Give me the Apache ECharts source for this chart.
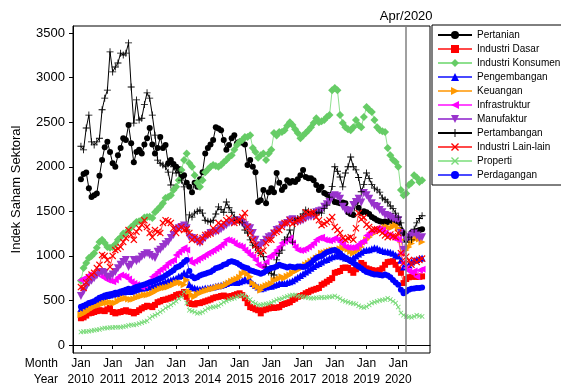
<!DOCTYPE html>
<html>
<head>
<meta charset="utf-8">
<script src="https://cdn.jsdelivr.net/npm/echarts@6/dist/echarts.min.js"></script>
<style>
  html, body { margin: 0; padding: 0; background: #fff; }
  #chart { width: 561px; height: 385px; }
</style>
</head>
<body>
<div id="chart"></div>
<script>
const FONT = 'Liberation Sans'

// axis: months counted from Jan 2010, a little padding on both ends
const monthNames = ['Jan', 'Feb', 'Mar', 'Apr', 'May', 'Jun', 'Jul', 'Aug', 'Sep', 'Oct', 'Nov', 'Dec']
const firstMonth = -3
const lastMonth = 132
const yearLabels = ['2010', '2011', '2012', '2013', '2014', '2015', '2016', '2017', '2018', '2019', '2020']
const yTicks = [0, 500, 1000, 1500, 2000, 2500, 3000, 3500]
const markMonth = 'Apr 2020'

// monthly values, Jan 2010 .. Oct 2020
const pertanian = [
  1860, 1920, 1935, 1760, 1660, 1680, 1700, 1900, 2075, 2220, 2280, 2165,
  2040, 2000, 2130, 2210, 2320, 2300, 2470, 2265, 2050, 2165, 2190, 2150,
  2250, 2320, 2435, 2250, 2150, 2210, 2335, 2210, 2245, 2040, 2075, 2030,
  2000, 1975, 1885, 1905, 1820, 1775, 1715, 1820, 1775, 1860, 1940, 2150,
  2210, 2250, 2300, 2445, 2430, 2410, 2300, 2190, 2245, 2320, 2355, 2265,
  2280, 2270, 2250, 2020, 2075, 2000, 1940, 1605, 1625, 1740, 1590, 1715,
  1760, 1715, 1930, 1820, 1740, 1775, 1850, 1820, 1840, 1830, 1860, 1905,
  1965, 1885, 1870, 1870, 1850, 1795, 1740, 1775, 1705, 1690, 1680, 1660,
  1605, 1600, 1590, 1600, 1590, 1490, 1470, 1460, 1605, 1540, 1480, 1500,
  1490, 1470, 1435, 1420, 1400, 1390, 1380, 1385, 1380, 1400, 1390, 1380,
  1370, 1290, 1257, 1180, 1220, 1260, 1250, 1280, 1290, 1300]
const industriDasar = [
  300, 310, 330, 355, 360, 370, 380, 390, 385, 380, 400, 415,
  370, 355, 365, 370, 380, 390, 375, 370, 355, 370, 390, 410,
  425, 440, 435, 425, 450, 480, 490, 505, 510, 520, 530, 540,
  560, 570, 575, 595, 540, 470, 460, 455, 470, 470, 480, 490,
  500, 510, 525, 535, 540, 550, 555, 545, 540, 550, 560, 570,
  580, 560, 525, 470, 425, 415, 400, 390, 355, 390, 400, 410,
  425, 415, 420, 425, 450, 460, 470, 480, 505, 520, 540, 550,
  560, 580, 595, 610, 620, 630, 640, 675, 690, 710, 730, 750,
  810, 820, 830, 865, 870, 865, 840, 810, 850, 875, 920, 900,
  860, 850, 840, 835, 830, 840, 860, 900, 930, 935, 940, 900,
  850, 810, 695, 740, 760, 765, 770, 765, 765, 770]
const industriKonsumen = [
  720, 865, 920, 975, 1000, 1030, 1090, 1155, 1180, 1145, 1100, 1090,
  1100, 1130, 1180, 1210, 1250, 1257, 1290, 1325, 1350, 1380, 1390, 1400,
  1430, 1435, 1440, 1425, 1490, 1520, 1550, 1590, 1650, 1660, 1680, 1740,
  1775, 1850, 1965, 2075, 2150, 2040, 2000, 1905, 1820, 1775, 1850, 1940,
  1970, 2000, 2020, 2010, 2000, 2020, 2050, 2075, 2110, 2130, 2190, 2245,
  2280, 2300, 2335, 2335, 2355, 2210, 2165, 2100, 2130, 2150, 2075, 2150,
  2190, 2380, 2350, 2390, 2390, 2410, 2460, 2500, 2470, 2420, 2380, 2320,
  2350, 2380, 2410, 2445, 2490, 2545, 2500, 2510, 2525, 2560, 2580, 2860,
  2885, 2860, 2580, 2490, 2445, 2420, 2410, 2445, 2525, 2470, 2445, 2560,
  2670, 2640, 2615, 2525, 2445, 2410, 2400, 2390, 2210, 2130, 2080, 2055,
  2000, 1740, 1680, 1700, 1795, 1820, 1905, 1880, 1830, 1850]
const pengembangan = [
  410, 420, 440, 460, 470, 480, 500, 520, 530, 545, 555, 560,
  570, 580, 575, 590, 595, 600, 615, 600, 610, 620, 630, 640,
  640, 645, 650, 660, 670, 680, 690, 700, 710, 720, 730, 740,
  750, 770, 780, 810, 790, 680, 650, 640, 630, 625, 630, 640,
  640, 645, 650, 660, 665, 670, 680, 690, 700, 705, 710, 700,
  710, 720, 740, 730, 720, 690, 670, 650, 630, 640, 650, 660,
  660, 670, 680, 690, 700, 690, 700, 710, 720, 740, 760, 780,
  800, 820, 840, 860, 880, 900, 915, 930, 950, 960, 975, 990,
  1000, 1010, 1000, 990, 975, 970, 960, 980, 1000, 1020, 1040, 1060,
  1065, 1070, 1080, 1090, 1085, 1070, 1060, 1050, 1045, 1040, 1030, 1010,
  1000, 950, 875, 880, 900, 930, 950, 960, 970, 975]
const keuangan = [
  340, 350, 370, 390, 410, 425, 440, 450, 460, 470, 475, 480,
  475, 470, 495, 505, 520, 525, 515, 510, 515, 530, 540, 550,
  560, 560, 570, 580, 600, 615, 630, 640, 645, 650, 665, 675,
  695, 700, 695, 675, 730, 600, 560, 540, 570, 580, 595, 605,
  615, 625, 630, 640, 650, 655, 660, 680, 695, 715, 730, 740,
  760, 800, 840, 800, 765, 695, 670, 650, 615, 650, 665, 675,
  690, 730, 735, 745, 765, 750, 770, 785, 810, 825, 840, 860,
  875, 900, 920, 940, 955, 975, 990, 1030, 1035, 1045, 1055, 1065,
  1065, 1065, 1080, 1090, 1085, 1075, 1050, 1030, 1050, 1065, 1100, 1145,
  1180, 1210, 1240, 1257, 1270, 1290, 1310, 1320, 1325, 1310, 1330, 1345,
  1310, 1180, 1030, 1065, 1100, 1140, 1180, 1210, 1190, 1155]
const infrastruktur = [
  730, 745, 760, 785, 780, 785, 800, 810, 765, 750, 730, 720,
  710, 730, 760, 785, 775, 765, 740, 710, 690, 675, 660, 650,
  670, 695, 720, 765, 790, 820, 845, 865, 890, 920, 940, 955,
  1010, 1040, 1065, 1090, 1065, 955, 920, 940, 955, 975, 990, 1010,
  1030, 1045, 1060, 1080, 1100, 1120, 1145, 1180, 1175, 1165, 1145, 1120,
  1110, 1100, 1065, 1040, 1010, 990, 955, 900, 880, 875, 930, 990,
  1000, 1030, 1065, 1100, 1145, 1160, 1180, 1200, 1145, 1100, 1065, 1060,
  1065, 1080, 1100, 1120, 1145, 1180, 1200, 1210, 1180, 1175, 1170, 1180,
  1200, 1180, 1155, 1130, 1100, 1095, 1090, 1095, 1100, 1130, 1155, 1170,
  1230, 1257, 1280, 1290, 1310, 1300, 1290, 1260, 1235, 1220, 1200, 1190,
  1180, 1030, 920, 865, 830, 810, 830, 765, 840, 850]
const manufaktur = [
  550, 600, 650, 695, 720, 750, 780, 810, 820, 810, 765, 765,
  790, 820, 860, 900, 930, 955, 875, 900, 955, 940, 960, 990,
  1010, 1030, 1010, 990, 975, 1045, 1070, 1100, 1130, 1155, 1200, 1235,
  1290, 1310, 1325, 1340, 1310, 1210, 1200, 1180, 1160, 1145, 1170, 1200,
  1230, 1257, 1260, 1270, 1280, 1300, 1320, 1345, 1370, 1375, 1380, 1400,
  1390, 1370, 1345, 1320, 1310, 1257, 1180, 1100, 1120, 1145, 1180, 1210,
  1220, 1250, 1290, 1300, 1345, 1350, 1370, 1400, 1410, 1395, 1380, 1390,
  1400, 1420, 1435, 1440, 1450, 1490, 1500, 1510, 1550, 1580, 1605, 1660,
  1680, 1670, 1640, 1550, 1515, 1510, 1500, 1570, 1605, 1640, 1600, 1705,
  1680, 1640, 1590, 1560, 1550, 1515, 1490, 1460, 1450, 1435, 1420, 1410,
  1400, 1257, 1065, 1180, 1210, 1230, 1257, 1230, 1200, 1210]
const pertambangan = [
  2230, 2190, 2435, 2580, 2280, 2245, 2280, 2320, 2640, 2770, 2860, 3290,
  3065, 3120, 3165, 3275, 3255, 3275, 3390, 2895, 2490, 2750, 2525, 2545,
  2700, 2830, 2770, 2580, 2355, 2075, 2040, 2020, 2000, 1940, 1795, 2000,
  1930, 1940, 1850, 1775, 1290, 1460, 1435, 1480, 1500, 1515, 1480, 1400,
  1390, 1380, 1400, 1470, 1550, 1520, 1490, 1605, 1540, 1490, 1435, 1400,
  1380, 1370, 1290, 1257, 1180, 1120, 1100, 1065, 1030, 990, 875, 820,
  800, 785, 955, 1030, 1065, 1180, 1210, 1290, 1155, 1400, 1420, 1435,
  1470, 1515, 1500, 1490, 1480, 1470, 1490, 1480, 1530, 1570, 1660, 1780,
  2000, 1950, 1885, 1775, 1930, 2000, 2110, 2000, 1965, 1880, 1720, 1800,
  1930, 1870, 1800, 1760, 1740, 1715, 1650, 1630, 1605, 1560, 1530, 1480,
  1435, 1370, 1257, 1155, 1210, 1180, 1300, 1370, 1420, 1450]
const industriLain = [
  650, 640, 700, 760, 790, 810, 865, 900, 1010, 1000, 955, 875,
  1000, 1065, 1080, 1100, 1155, 1200, 1290, 1235, 1180, 1270, 1310, 1350,
  1400, 1325, 1257, 1210, 1290, 1270, 1257, 1370, 1400, 1390, 1370, 1310,
  1257, 1300, 1325, 1290, 1300, 1257, 1180, 1210, 1180, 1155, 1200, 1235,
  1240, 1250, 1310, 1280, 1370, 1340, 1370, 1400, 1425, 1400, 1370, 1390,
  1400, 1435, 1480, 1325, 1257, 1180, 1120, 1065, 1030, 1060, 1145, 1180,
  1180, 1257, 1270, 1290, 1325, 1370, 1370, 1400, 1360, 1380, 1400, 1410,
  1425, 1490, 1470, 1480, 1490, 1435, 1400, 1345, 1360, 1380, 1400, 1435,
  1325, 1290, 1257, 1200, 1180, 1200, 1210, 1180, 1310, 1480, 1410, 1430,
  1350, 1325, 1290, 1300, 1300, 1280, 1257, 1230, 1210, 1240, 1220, 1210,
  1257, 1030, 920, 990, 950, 900, 955, 930, 955, 970]
const properti = [
  145, 150, 150, 155, 160, 165, 170, 175, 185, 190, 190, 195,
  195, 200, 200, 200, 205, 210, 220, 225, 225, 230, 240, 250,
  260, 270, 300, 320, 335, 350, 370, 390, 415, 430, 450, 470,
  490, 520, 540, 595, 470, 390, 380, 370, 355, 360, 370, 390,
  410, 420, 425, 430, 440, 460, 480, 495, 510, 520, 525, 540,
  550, 560, 550, 530, 510, 480, 465, 450, 450, 455, 460, 465,
  475, 490, 505, 515, 520, 535, 545, 555, 560, 560, 550, 545,
  540, 535, 530, 525, 525, 530, 530, 535, 530, 535, 540, 540,
  550, 535, 520, 500, 490, 480, 470, 465, 460, 440, 425, 420,
  430, 450, 470, 480, 490, 500, 505, 510, 525, 510, 490, 470,
  425, 360, 335, 320, 315, 310, 320, 335, 325, 320]
const perdagangan = [
  430, 440, 455, 470, 480, 490, 510, 530, 540, 555, 565, 570,
  575, 585, 590, 600, 610, 620, 630, 625, 640, 650, 660, 670,
  680, 690, 700, 710, 720, 735, 750, 760, 780, 800, 820, 840,
  870, 880, 900, 930, 955, 830, 770, 750, 760, 780, 790, 800,
  810, 820, 840, 860, 870, 880, 900, 910, 930, 940, 930, 920,
  900, 880, 870, 860, 840, 830, 820, 810, 800, 810, 830, 850,
  865, 870, 880, 900, 890, 880, 870, 880, 875, 870, 880, 880,
  875, 880, 900, 920, 950, 975, 990, 1000, 1020, 1040, 1050, 1060,
  1065, 1050, 1030, 1000, 980, 960, 940, 920, 900, 880, 860, 840,
  820, 810, 800, 790, 790, 785, 780, 790, 780, 760, 730, 700,
  675, 620, 580, 600, 620, 630, 635, 640, 640, 645]

const categories = []
for (let i = firstMonth; i <= lastMonth; i++) {
  const year = 2010 + Math.floor(i / 12)
  categories.push(monthNames[((i % 12) + 12) % 12] + ' ' + year)
}
const pad = arr => categories.map((c, i) => {
  const k = i + firstMonth
  return k >= 0 && k < arr.length ? arr[k] : null
})
const isYearStart = (idx, value) => {
  const parts = value.split(' ')
  return parts[0] === 'Jan' && yearLabels.indexOf(parts[1]) >= 0
}

const TRI_RIGHT = 'path://M0,0L10,5L0,10Z'
const TRI_LEFT = 'path://M10,0L0,5L10,10Z'
const TRI_DOWN = 'path://M0,0L10,0L5,10Z'
const PLUS = 'path://M4.4,0H5.6V4.4H10V5.6H5.6V10H4.4V5.6H0V4.4H4.4Z'
const CROSS = 'path://M0,1.2L1.2,0L5,3.8L8.8,0L10,1.2L6.2,5L10,8.8L8.8,10L5,6.2L1.2,10L0,8.8L3.8,5Z'

const seriesDefs = [
  { name: 'Pertanian', data: pertanian, symbol: 'circle', size: 6, color: '#000000', line: '#000000' },
  { name: 'Industri Dasar', data: industriDasar, symbol: 'rect', size: 6, color: '#ff0000', line: '#ff4a4a' },
  { name: 'Industri Konsumen', data: industriKonsumen, symbol: 'diamond', size: 8, color: '#66cc66', line: '#8ee08e' },
  { name: 'Pengembangan', data: pengembangan, symbol: 'triangle', size: 7, color: '#0000ff', line: '#4a4aff' },
  { name: 'Keuangan', data: keuangan, symbol: TRI_RIGHT, size: 7, color: '#ff9900', line: '#ffb040' },
  { name: 'Infrastruktur', data: infrastruktur, symbol: TRI_LEFT, size: 7, color: '#ff00ff', line: '#ff4aff' },
  { name: 'Manufaktur', data: manufaktur, symbol: TRI_DOWN, size: 8, color: '#9933cc', line: '#a855d8' },
  { name: 'Pertambangan', data: pertambangan, symbol: PLUS, size: 7, color: '#000000', line: '#000000' },
  { name: 'Industri Lain-lain', data: industriLain, symbol: CROSS, size: 7, color: '#ff0000', line: '#ff4a4a' },
  { name: 'Properti', data: properti, symbol: CROSS, size: 5, color: '#77d977', line: '#9be69b' },
  { name: 'Perdagangan', data: perdagangan, symbol: 'circle', size: 6, color: '#0000ff', line: '#4a4aff' },
]

const series = seriesDefs.map((d, i) => {
  const s = {
    type: 'line',
    name: d.name,
    data: pad(d.data),
    symbol: d.symbol,
    symbolSize: d.size,
    showAllSymbol: true,
    connectNulls: false,
    itemStyle: { color: d.color },
    lineStyle: { color: d.line, width: 1 },
    emphasis: { disabled: true },
  }
  if (i === 0) {
    s.markLine = {
      silent: true,
      symbol: 'none',
      lineStyle: { color: '#808080', width: 1.5, type: 'solid' },
      label: { show: true, position: 'end', formatter: 'Apr/2020', color: '#000', fontSize: 13, fontFamily: FONT, distance: 3 },
      data: [{ xAxis: markMonth }],
    }
  }
  return s
})

const chart = echarts.init(document.getElementById('chart'), null, { renderer: 'canvas' })
chart.setOption({
  animation: false,
  backgroundColor: '#ffffff',
  textStyle: { fontFamily: FONT },
  grid: {
    left: 73, right: 131, top: 26, bottom: 32,
    outerBoundsMode: 'none',
    show: true, borderColor: '#000', borderWidth: 1,
  },
  legend: {
    orient: 'vertical',
    left: 432,
    top: 25,
    padding: [5, 4, 5, 5],
    itemWidth: 34,
    itemHeight: 10,
    itemGap: 4,
    borderColor: '#000',
    borderWidth: 1,
    selectedMode: false,
    textStyle: { fontSize: 10, fontFamily: FONT, color: '#000', lineHeight: 10 },
    data: seriesDefs.map(d => d.name),
  },
  xAxis: {
    type: 'category',
    data: categories,
    boundaryGap: false,
    axisLine: { lineStyle: { color: '#000' } },
    axisTick: { length: 4, interval: isYearStart, lineStyle: { color: '#000' } },
    axisLabel: {
      interval: isYearStart,
      formatter: v => v.replace(' ', '\n'),
      fontSize: 12,
      lineHeight: 16,
      margin: 3,
      color: '#000',
      fontFamily: FONT,
    },
    splitLine: { show: false },
  },
  yAxis: {
    type: 'value',
    min: -90,
    max: 3580,
    name: 'Indek Saham Sektoral',
    nameLocation: 'middle',
    nameGap: 50,
    nameTextStyle: { fontSize: 13, color: '#000', fontFamily: FONT },
    axisLine: { show: true, lineStyle: { color: '#000' } },
    axisTick: { show: true, length: 4, customValues: yTicks, lineStyle: { color: '#000' } },
    axisLabel: { customValues: yTicks, formatter: v => String(v), margin: 8, fontSize: 13, color: '#000', fontFamily: FONT },
    splitLine: { show: false },
  },
  graphic: [
    { type: 'text', style: { text: 'Month', x: 58, y: 364, align: 'right', verticalAlign: 'middle', fontSize: 12, fontFamily: FONT, fill: '#000' } },
    { type: 'text', style: { text: 'Year', x: 58, y: 380, align: 'right', verticalAlign: 'middle', fontSize: 12, fontFamily: FONT, fill: '#000' } },
  ],
  series: series,
})
</script>
</body>
</html>
